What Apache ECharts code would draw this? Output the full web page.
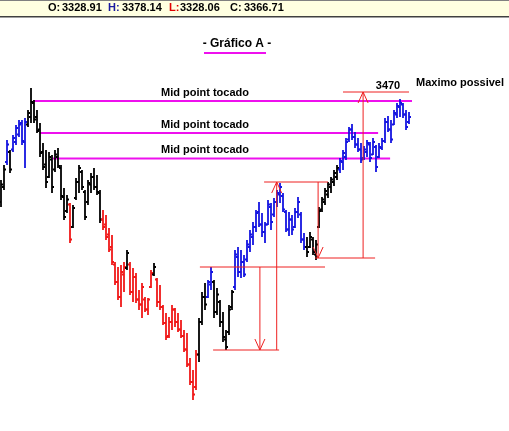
<!DOCTYPE html>
<html>
<head>
<meta charset="utf-8">
<script src="https://cdn.jsdelivr.net/npm/echarts@6/dist/echarts.min.js"></script>
<style>
html, body { margin: 0; padding: 0; background: #fff; }
#chart { width: 509px; height: 431px; }
</style>
</head>
<body>
<div id="chart"></div>
<script>
// Gráfico A - barras OHLC com projeções do mid point

// cotações (uma barra por posição)
const highs = [
  3294, 3324, 3374, 3354, 3384, 3404, 3414, 3414, 3418, 3434,
  3478, 3454, 3434, 3408, 3368, 3354, 3350, 3344, 3354, 3358,
  3324, 3278, 3264, 3248, 3244, 3298, 3324, 3314, 3274, 3294,
  3308, 3318, 3304, 3274, 3234, 3224, 3198, 3184, 3130, 3120,
  3124, 3130, 3154, 3130, 3118, 3108, 3074, 3088, 3060, 3058,
  3114, 3128, 3098, 3084, 3044, 3028, 3020, 3044, 3038, 3028,
  3014, 2994, 2988, 2938, 2914, 2954, 3018, 3070, 3088, 3094,
  3120, 3094, 3078, 3054, 3030, 2994, 3044, 3074, 3154, 3160,
  3154, 3144, 3174, 3194, 3210, 3234, 3250, 3228, 3210, 3254,
  3248, 3258, 3274, 3288, 3268, 3234, 3230, 3224, 3238, 3260,
  3230, 3188, 3180, 3190, 3180, 3174, 3240, 3260, 3278, 3290,
  3300, 3314, 3324, 3338, 3354, 3378, 3400, 3406, 3390, 3378,
  3368, 3362, 3374, 3370, 3378, 3364, 3368, 3378, 3418, 3422,
  3414, 3434, 3448, 3456, 3448, 3434, 3430
];
const lows = [
  3240, 3274, 3324, 3308, 3350, 3364, 3380, 3364, 3318, 3400,
  3408, 3408, 3388, 3340, 3314, 3278, 3298, 3268, 3310, 3318,
  3254, 3214, 3228, 3168, 3198, 3254, 3268, 3274, 3214, 3244,
  3268, 3274, 3264, 3208, 3194, 3174, 3150, 3124, 3084, 3054,
  3040, 3070, 3114, 3064, 3050, 3048, 3034, 3018, 3030, 3024,
  3078, 3102, 3040, 3034, 3004, 2974, 2978, 2994, 3000, 2990,
  2978, 2950, 2920, 2884, 2854, 2874, 2930, 3004, 3034, 3058,
  3074, 3018, 3024, 3000, 2970, 2954, 2984, 3034, 3074, 3100,
  3098, 3100, 3130, 3150, 3164, 3190, 3200, 3180, 3168, 3204,
  3194, 3220, 3240, 3248, 3230, 3190, 3182, 3184, 3198, 3218,
  3168, 3154, 3140, 3158, 3144, 3134, 3198, 3230, 3244, 3258,
  3268, 3282, 3294, 3308, 3314, 3334, 3370, 3374, 3358, 3350,
  3328, 3334, 3340, 3330, 3344, 3310, 3338, 3354, 3368, 3390,
  3368, 3404, 3418, 3420, 3418, 3394, 3406
];
const opens = [
  3250, 3280, 3330, 3350, 3355, 3370, 3385, 3408, 3370, 3405,
  3420, 3448, 3420, 3395, 3350, 3325, 3300, 3335, 3315, 3340,
  3318, 3260, 3232, 3245, 3200, 3258, 3290, 3310, 3270, 3250,
  3285, 3300, 3280, 3268, 3215, 3205, 3185, 3160, 3125, 3090,
  3060, 3105, 3118, 3125, 3070, 3100, 3055, 3045, 3055, 3035,
  3080, 3105, 3095, 3050, 3040, 3008, 2982, 3010, 3035, 3010,
  2995, 2982, 2955, 2925, 2890, 2880, 2945, 3010, 3060, 3060,
  3085, 3090, 3030, 3050, 3010, 2975, 2990, 3040, 3080, 3140,
  3110, 3130, 3135, 3160, 3180, 3200, 3230, 3205, 3190, 3205,
  3240, 3225, 3250, 3265, 3262, 3230, 3195, 3215, 3200, 3230,
  3225, 3175, 3160, 3160, 3175, 3145, 3200, 3235, 3250, 3265,
  3280, 3290, 3300, 3315, 3330, 3340, 3375, 3395, 3380, 3365,
  3355, 3338, 3350, 3365, 3345, 3360, 3340, 3358, 3372, 3410,
  3395, 3405, 3425, 3440, 3445, 3425, 3410
];
const closes = [
  3285, 3315, 3365, 3315, 3378, 3398, 3405, 3372, 3410, 3428,
  3450, 3415, 3392, 3348, 3320, 3290, 3340, 3280, 3345, 3322,
  3262, 3220, 3255, 3175, 3238, 3290, 3318, 3280, 3220, 3288,
  3300, 3280, 3270, 3215, 3200, 3180, 3155, 3130, 3090, 3060,
  3110, 3120, 3148, 3070, 3100, 3055, 3045, 3080, 3035, 3055,
  3108, 3120, 3050, 3040, 3008, 2980, 3010, 3035, 3010, 2995,
  2982, 2955, 2925, 2890, 2865, 2945, 3010, 3060, 3045, 3090,
  3110, 3030, 3065, 3010, 2980, 2960, 3035, 3070, 3145, 3110,
  3130, 3105, 3165, 3185, 3200, 3228, 3205, 3190, 3205, 3245,
  3210, 3250, 3268, 3280, 3235, 3195, 3215, 3195, 3230, 3250,
  3175, 3160, 3150, 3180, 3150, 3165, 3232, 3255, 3272, 3285,
  3295, 3308, 3318, 3332, 3348, 3370, 3395, 3380, 3365, 3355,
  3335, 3355, 3368, 3338, 3370, 3320, 3360, 3372, 3410, 3395,
  3375, 3428, 3442, 3448, 3425, 3400, 3420
];
// n = neutro, u = alta, d = baixa
const trend = (
  'nnun' + 'uuuuu' + 'nnnnnnnnnnnnnn' + 'd' + 'nnnnnnnnnn' +
  'dddddddd' + 'n' + 'dddddddd' + 'n' + 'dddddddddddddd' +
  'nnn' + 'uu' + 'nnnnnnn' + 'uuuuuuuuuuuuuuuuuuuuuuuu' +
  'nnnnnnnnnnn' + 'uuuuuuuuuuuuuuuuuuuuuuuu'
).split('');

// linhas de mid point: início, fim (posição da barra) e nível
const midFrom = [10.7, 13, 17.3];
const midTo = [137, 125.7, 129.7];
const midLevels = [3452, 3388, 3337];
const midLabelAt = 68;

// projeções: [x1, preço1, x2, preço2, seta]
const projections = [
  [66.3, 3120, 108, 3120, 0],
  [86.3, 3120, 86.3, 2954, 1],
  [70.7, 2954, 92.7, 2954, 0],
  [91.9, 2954, 91.9, 3290, 1],
  [87.7, 3290, 109, 3290, 0],
  [105.7, 3290, 105.7, 3138, 1],
  [104.7, 3138, 124.7, 3138, 0],
  [120.7, 3138, 120.7, 3470, 1],
  [114, 3470, 136, 3470, 0]
];
const target = [129, 3470];

const headerLabels = ['O:', 'H:', 'L:', 'C:'];
const headerValues = ['3328.91', '3378.14', '3328.06', '3366.71'];

const font = 'Arial, "Liberation Sans", sans-serif';
const colorOf = { n: '#000000', u: '#1414e0', d: '#f01818' };
const red = '#ee2020';
const magenta = '#ee10ee';

const chart = echarts.init(document.getElementById('chart'));

function renderBar(params, api) {
  const i = api.value(0);
  const hi = api.coord([i, api.value(3)]);
  const lo = api.coord([i, api.value(4)]);
  const op = api.coord([i, api.value(1)]);
  const cl = api.coord([i, api.value(2)]);
  const style = { stroke: colorOf[trend[params.dataIndex]], lineWidth: 1.8 };
  return {
    type: 'group',
    children: [
      { type: 'line', shape: { x1: hi[0], y1: hi[1], x2: lo[0], y2: lo[1] }, style },
      { type: 'line', shape: { x1: op[0] - 2, y1: op[1], x2: op[0], y2: op[1] }, style },
      { type: 'line', shape: { x1: cl[0], y1: cl[1], x2: cl[0] + 2, y2: cl[1] }, style }
    ]
  };
}

function renderMid(params, api) {
  const a = api.coord([api.value(0), api.value(2)]);
  const b = api.coord([api.value(1), api.value(2)]);
  const t = api.coord([midLabelAt, api.value(2)]);
  return {
    type: 'group',
    children: [
      { type: 'line', shape: { x1: a[0], y1: a[1], x2: b[0], y2: b[1] },
        style: { stroke: magenta, lineWidth: 2 } },
      { type: 'text', x: t[0], y: t[1] - 3,
        style: { text: 'Mid point tocado', fill: '#000', font: 'bold 11px ' + font,
                 align: 'center', verticalAlign: 'bottom' } }
    ]
  };
}

function renderProj(params, api) {
  const a = api.coord([api.value(0), api.value(1)]);
  const b = api.coord([api.value(2), api.value(3)]);
  const kids = [
    { type: 'line', shape: { x1: a[0], y1: a[1], x2: b[0], y2: b[1] },
      style: { stroke: red, lineWidth: 1 } }
  ];
  if (api.value(4)) {
    const dir = b[1] > a[1] ? -1 : 1;
    kids.push({
      type: 'polyline',
      shape: { points: [[b[0] - 5, b[1] + dir * 11], [b[0], b[1]], [b[0] + 5, b[1] + dir * 11]] },
      style: { stroke: red, lineWidth: 1, fill: null }
    });
  }
  return { type: 'group', children: kids };
}

const headerX = [48, 108, 169, 230];
const headerColors = ['#000', '#1a1aa0', '#e00000', '#000'];
const graphics = [
  { type: 'rect', shape: { x: 0, y: 0, width: 509, height: 17 }, style: { fill: '#ffffe1' } },
  { type: 'line', shape: { x1: 0, y1: 0.5, x2: 509, y2: 0.5 }, style: { stroke: '#808080', lineWidth: 1 } },
  { type: 'line', shape: { x1: 0, y1: 16.5, x2: 509, y2: 16.5 }, style: { stroke: '#404040', lineWidth: 1 } },
  { type: 'line', shape: { x1: 0, y1: 17.5, x2: 509, y2: 17.5 }, style: { stroke: '#a0a0a0', lineWidth: 1 } }
];
headerLabels.forEach((lab, k) => {
  graphics.push({
    type: 'text', x: headerX[k], y: 8,
    style: { text: lab, fill: headerColors[k], font: 'bold 11px ' + font, verticalAlign: 'middle' }
  });
  graphics.push({
    type: 'text', x: headerX[k] + (k === 2 ? 11 : 14), y: 8,
    style: { text: headerValues[k], fill: '#000', font: 'bold 11px ' + font, verticalAlign: 'middle' }
  });
});
graphics.push(
  { type: 'text', x: 237, y: 44,
    style: { text: '- Gráfico A -', fill: '#000', font: 'bold 12px ' + font,
             align: 'center', verticalAlign: 'middle' } },
  { type: 'line', shape: { x1: 204, y1: 53, x2: 266, y2: 53 },
    style: { stroke: magenta, lineWidth: 2 } },
  { type: 'text', x: 416, y: 83,
    style: { text: 'Maximo possivel', fill: '#000', font: 'bold 11px ' + font, verticalAlign: 'middle' } }
);

const option = {
  animation: false,
  backgroundColor: '#fff',
  grid: { left: 1, right: 1, top: 20, bottom: 11 },
  xAxis: { type: 'value', min: 0, max: 169, show: false },
  yAxis: { type: 'value', min: 2814, max: 3614, show: false },
  graphic: graphics,
  series: [
    {
      type: 'custom',
      name: 'mid',
      renderItem: renderMid,
      clip: false,
      encode: { x: [0, 1], y: 2 },
      data: midFrom.map((f, k) => [f, midTo[k], midLevels[k]])
    },
    {
      type: 'custom',
      name: 'ohlc',
      renderItem: renderBar,
      clip: false,
      encode: { x: 0, y: [1, 2, 3, 4] },
      data: highs.map((h, i) => [i, opens[i], closes[i], h, lows[i]])
    },
    {
      type: 'custom',
      name: 'proj',
      renderItem: renderProj,
      clip: false,
      encode: { x: [0, 2], y: [1, 3] },
      data: projections
    }
  ]
};

chart.setOption(option);

// rótulo do alvo
const tp = chart.convertToPixel({ gridIndex: 0 }, target);
graphics.push({
  type: 'text', x: tp[0], y: tp[1] - 1,
  style: { text: String(target[1]), fill: '#000', font: 'bold 11px ' + font,
           align: 'center', verticalAlign: 'bottom' }
});
chart.setOption({ graphic: graphics });
</script>
</body>
</html>
